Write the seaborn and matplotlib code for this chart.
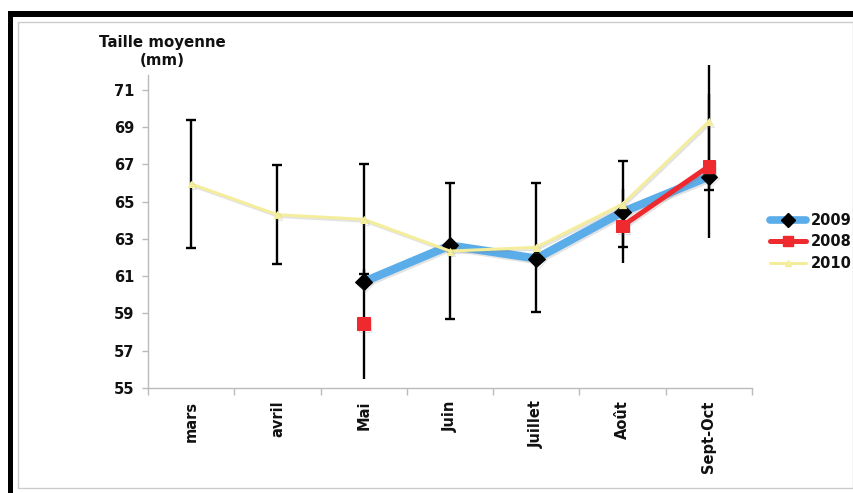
import numpy as np
import pandas as pd
import matplotlib
matplotlib.use("Agg")
import matplotlib.pyplot as plt
import matplotlib.patheffects as pe
from matplotlib.patches import Rectangle
from matplotlib.lines import Line2D
import seaborn as sns

# ---------------- data ----------------
months = ["mars", "avril", "Mai", "Juin", "Juillet", "Août", "Sept-Oct"]
y2009 = [np.nan, np.nan, 60.7, 62.65, 61.95, 64.45, 66.35]
y2008 = [np.nan, np.nan, 58.45, np.nan, np.nan, 63.7, 66.9]
y2010 = [65.95, 64.3, 64.05, 62.35, 62.55, 64.87, 69.3]
err2010 = [3.45, 2.65, 2.95, 3.63, 3.45, 2.32, 3.05]
cap2010 = [True, True, True, True, True, True, False]
err2009 = [np.nan, np.nan, np.nan, np.nan, np.nan, np.nan, 0.7]
err2008 = [np.nan, np.nan, 2.95, np.nan, np.nan, 2.0, 3.87]
yticks = [55, 57, 59, 61, 63, 65, 67, 69, 71]
ylabel = "Taille moyenne\n(mm)"
legend_order = ["2009", "2008", "2010"]

# ---------------- style ----------------
sns.set_style("white")
plt.rcParams["font.family"] = ["DejaVu Sans"]
FS = 10.5
TXT = "#111111"
AX = "#BBBBBB"
BLUE = "#5AADE9"
RED = "#EE2A2E"
YEL = "#F4EE9C"

W, H = 854, 493
fig = plt.figure(figsize=(W / 100, H / 100), dpi=100)
fig.patch.set_facecolor("white")
ax = fig.add_axes([148 / W, 1 - 388 / H, (752 - 148) / W, (388 - 75) / H])

x = np.arange(len(months))


def seg_ids(vals):
    out, s, prev_nan = [], 0, True
    for v in vals:
        if np.isnan(v):
            out.append(np.nan)
            prev_nan = True
        else:
            if prev_nan:
                s += 1
            prev_nan = False
            out.append(s)
    return out


def frame(vals):
    return pd.DataFrame({"x": x, "y": vals, "seg": seg_ids(vals)}).dropna()


shadow = [pe.SimpleLineShadow(offset=(1.0, -1.3), shadow_color="0.5", alpha=0.22), pe.Normal()]

# ---------------- error bars ----------------
def draw_err(xv, yv, ev, capsize):
    xv, yv, ev = np.asarray(xv, float), np.asarray(yv, float), np.asarray(ev, float)
    m = ~np.isnan(yv) & ~np.isnan(ev)
    if not m.any():
        return
    c = ax.errorbar(xv[m], yv[m], yerr=ev[m], fmt="none", ecolor="black",
                    elinewidth=1.7, capsize=capsize, capthick=1.7, zorder=1.5)
    for art in list(c.lines[1]) + list(c.lines[2]):
        art.set_clip_on(False)


e10 = np.asarray(err2010, float)
capm = np.asarray(cap2010)
draw_err(x[capm], np.asarray(y2010)[capm], e10[capm], 3.6)
draw_err(x[~capm], np.asarray(y2010)[~capm], e10[~capm], 0)
draw_err(x, y2009, err2009, 3.6)
draw_err(x, y2008, err2008, 0)

# ---------------- lines ----------------
sns.lineplot(data=frame(y2009), x="x", y="y", units="seg", estimator=None, sort=False,
             color=BLUE, lw=6, marker="D", ms=8.5, mfc="black", mec="black",
             legend=False, ax=ax, zorder=3, path_effects=shadow)
sns.lineplot(data=frame(y2008), x="x", y="y", units="seg", estimator=None, sort=False,
             color=RED, lw=3.6, marker="s", ms=9, mfc=RED, mec=RED,
             legend=False, ax=ax, zorder=4, path_effects=shadow)
sns.lineplot(data=frame(y2010), x="x", y="y", units="seg", estimator=None, sort=False,
             color=YEL, lw=2.2, marker="^", ms=5, mfc=YEL, mec=YEL,
             legend=False, ax=ax, zorder=5, path_effects=shadow)

# ---------------- axes ----------------
ax.set_xlim(-0.5, len(months) - 0.5)
ax.set_ylim(55, 71.8)
ax.set_xticks(x)
ax.set_xticklabels(months, rotation=90, fontsize=FS, fontweight="bold", color=TXT)
ax.set_xticks(np.arange(-0.5, len(months), 1.0), minor=True)
ax.set_yticks(yticks)
ax.set_yticklabels([str(t) for t in yticks], fontsize=FS, fontweight="bold", color=TXT)
ax.set_xlabel("")
ax.set_ylabel("")
ax.tick_params(axis="x", which="major", bottom=True, length=0, pad=9)
ax.tick_params(axis="x", which="minor", bottom=True, length=5, width=1, color=AX, direction="out")
ax.tick_params(axis="y", which="major", left=True, length=4, width=1, color=AX, direction="out", pad=6)
for s in ["top", "right"]:
    ax.spines[s].set_visible(False)
for s in ["left", "bottom"]:
    ax.spines[s].set_color(AX)
    ax.spines[s].set_linewidth(1)
ax.set_facecolor("none")

fig.text(162 / W, 1 - 35 / H, ylabel, ha="center", va="top", fontsize=10.8,
         fontweight="bold", color=TXT, linespacing=1.25)

# ---------------- legend ----------------
handles = {
    "2009": Line2D([], [], color=BLUE, lw=5.5, marker="D", ms=7, mfc="black", mec="black"),
    "2008": Line2D([], [], color=RED, lw=3.6, marker="s", ms=7.5, mfc=RED, mec=RED),
    "2010": Line2D([], [], color=YEL, lw=2.2, marker="^", ms=4.5, mfc=YEL, mec=YEL),
}
leg = fig.legend([handles[k] for k in legend_order], legend_order, loc="center left",
                 bbox_to_anchor=(764 / W, 1 - 242 / H), frameon=False,
                 handlelength=2.5, handletextpad=0.3, labelspacing=0.45,
                 prop={"size": FS, "weight": "bold"}, borderaxespad=0)
for t in leg.get_texts():
    t.set_color(TXT)

# ---------------- frame ----------------
fig.add_artist(Rectangle((8 / W, 1 - 17 / H), 1 - 8 / W, 6 / H, transform=fig.transFigure,
                         facecolor="black", edgecolor="none"))
fig.add_artist(Rectangle((8 / W, 0), 5 / W, 1 - 11 / H, transform=fig.transFigure,
                         facecolor="black", edgecolor="none"))
fig.add_artist(Rectangle((18 / W, 1 - 488 / H), (853 - 18) / W, (488 - 22) / H,
                         transform=fig.transFigure, facecolor="none", edgecolor="#CCCCCC", lw=1))

fig.savefig("out.png", dpi=100)
